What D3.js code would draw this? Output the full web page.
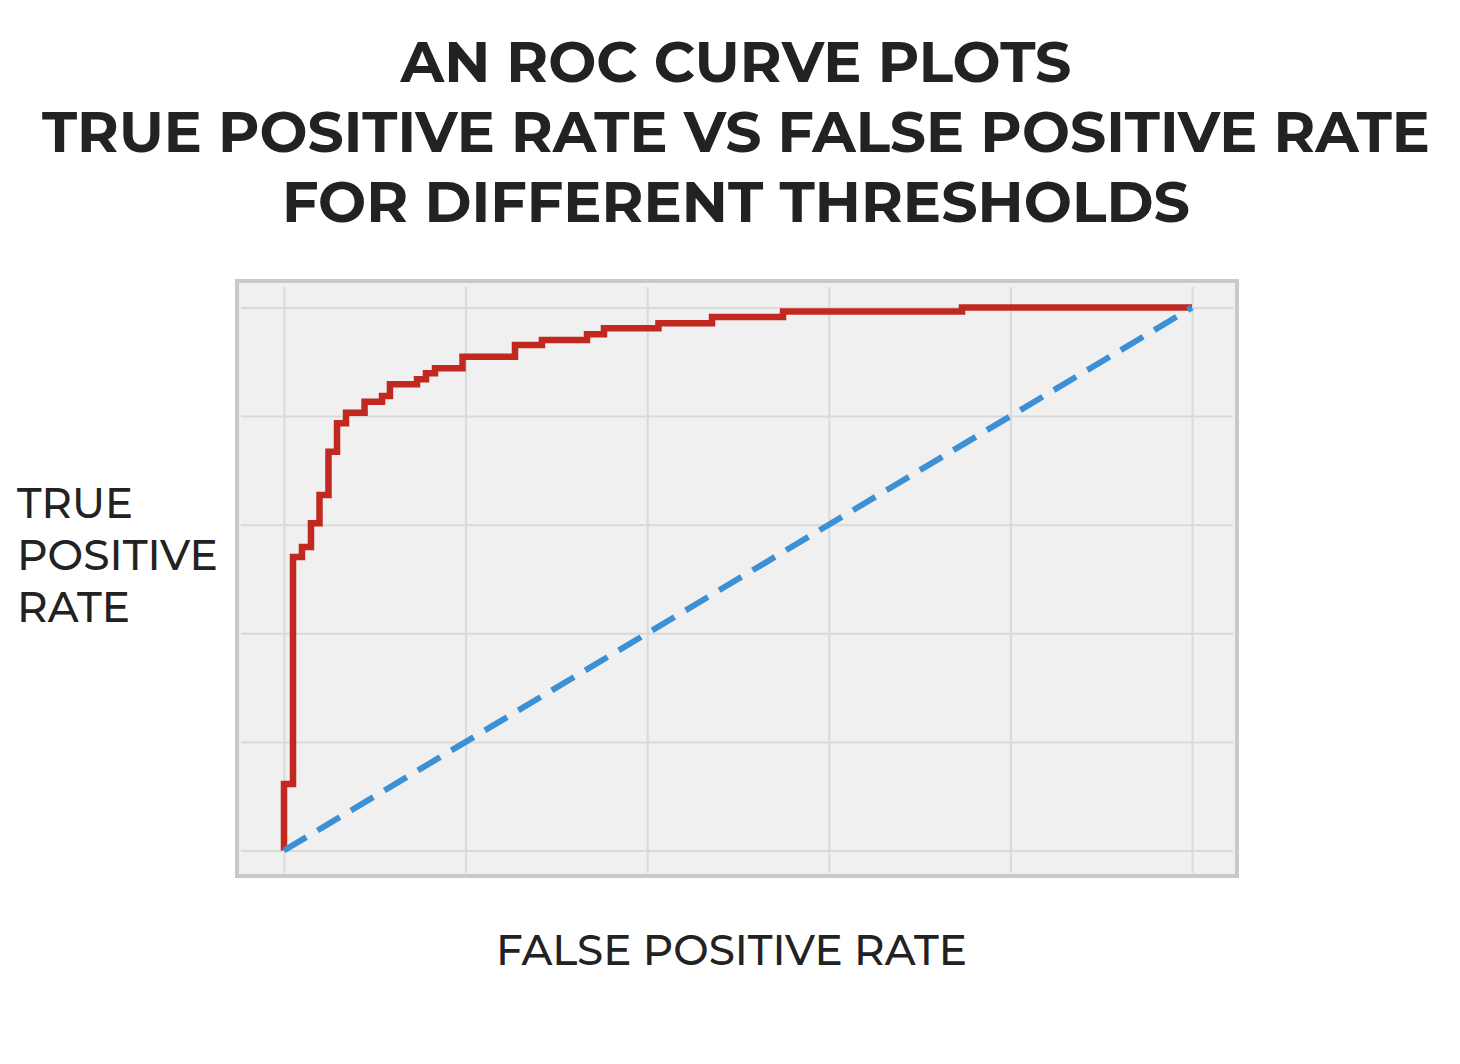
<!DOCTYPE html>
<html>
<head>
<meta charset="utf-8">
<script src="https://cdn.jsdelivr.net/npm/d3@7"></script>
<style>
  html, body { margin: 0; padding: 0; background: #ffffff; }
  svg { display: block; }
</style>
</head>
<body>
<div id="chart"></div>
<script>
// ---- Data ----
const titleLines = ["AN ROC CURVE PLOTS", "TRUE POSITIVE RATE VS FALSE POSITIVE RATE", "FOR DIFFERENT THRESHOLDS"];
const yLabelLines = ["TRUE", "POSITIVE", "RATE"];
const xLabel = "FALSE POSITIVE RATE";
const gridTicks = [0, 0.2, 0.4, 0.6, 0.8, 1.0];

// ROC corner points (sklearn-style fpr / tpr arrays)
const fpr = [0, 0, 0.0099, 0.0099, 0.0198, 0.0198, 0.0297, 0.0297, 0.0391, 0.0391,
             0.049, 0.049, 0.0584, 0.0584, 0.0683, 0.0683, 0.0887, 0.0887, 0.108, 0.108,
             0.1167, 0.1167, 0.1465, 0.1465, 0.1564, 0.1564, 0.1663, 0.1663, 0.1966, 0.1966,
             0.2544, 0.2544, 0.2841, 0.2841, 0.3337, 0.3337, 0.3524, 0.3524, 0.4124, 0.4124,
             0.4714, 0.4714, 0.5496, 0.5496, 0.7467, 0.7467, 1.0];
const tpr = [0, 0.1225, 0.1225, 0.5405, 0.5405, 0.559, 0.559, 0.6026, 0.6026, 0.6547,
             0.6547, 0.7344, 0.7344, 0.7867, 0.7867, 0.8063, 0.8063, 0.8265, 0.8265, 0.837,
             0.837, 0.8586, 0.8586, 0.8678, 0.8678, 0.8788, 0.8788, 0.888, 0.888, 0.9094,
             0.9094, 0.9309, 0.9309, 0.9401, 0.9401, 0.9506, 0.9506, 0.9617, 0.9617, 0.9709,
             0.9709, 0.9825, 0.9825, 0.9926, 0.9926, 1.0, 1.0, 1.0];
// Chance line
const chanceX = [0, 1];
const chanceY = [0, 1];

// ---- Layout ----
const W = 1460, H = 1064;
const frame = { x0: 237, y0: 281, x1: 1237, y1: 876 };

const svg = d3.select("#chart").append("svg")
  .attr("width", W).attr("height", H);

const x = d3.scaleLinear().domain([0, 1]).range([284, 1192]);
const y = d3.scaleLinear().domain([0, 1]).range([850.5, 307.5]);

// Plot background + frame
svg.append("rect")
  .attr("x", frame.x0).attr("y", frame.y0)
  .attr("width", frame.x1 - frame.x0).attr("height", frame.y1 - frame.y0)
  .attr("fill", "#f0f0f0")
  .attr("stroke", "#c9c9c9").attr("stroke-width", 4);

// Grid via axes
const gx = svg.append("g")
  .attr("transform", `translate(0,${frame.y1 - 3})`)
  .call(d3.axisBottom(x).tickValues(gridTicks).tickSize(-(frame.y1 - frame.y0 - 9)).tickFormat(""));
const gy = svg.append("g")
  .attr("transform", `translate(${frame.x0 + 4},0)`)
  .call(d3.axisLeft(y).tickValues(gridTicks).tickSize(-(frame.x1 - frame.x0 - 8)).tickFormat(""));
[gx, gy].forEach(g => {
  g.select(".domain").remove();
  g.selectAll(".tick line").attr("stroke", "#d9d9d9").attr("stroke-width", 2);
});

// ROC curve
const rocData = fpr.map((f, i) => [f, tpr[i]]);
const line = d3.line().x(d => x(d[0])).y(d => y(d[1]));
svg.append("path")
  .datum(rocData)
  .attr("d", line)
  .attr("fill", "none")
  .attr("stroke", "#c1281f")
  .attr("stroke-width", 6.5)
  .attr("stroke-linejoin", "miter")
  .attr("stroke-linecap", "butt");

// Chance diagonal
svg.append("path")
  .datum(chanceX.map((v, i) => [v, chanceY[i]]))
  .attr("d", line)
  .attr("fill", "none")
  .attr("stroke", "#3b90d6")
  .attr("stroke-width", 6)
  .attr("stroke-dasharray", "26,13");

// Title
const fontStack = "Montserrat, Inter, 'Open Sans', 'DejaVu Sans', sans-serif";
const titleBase = [82, 152, 222];
const titleWidths = [671, 1388, 908];
svg.append("g").selectAll("text")
  .data(titleLines)
  .join("text")
  .attr("x", 736)
  .attr("y", (d, i) => titleBase[i])
  .attr("text-anchor", "middle")
  .attr("font-family", fontStack)
  .attr("font-weight", 700)
  .attr("font-size", 56)
  .attr("fill", "#222222")
  .attr("textLength", (d, i) => titleWidths[i])
  .attr("lengthAdjust", "spacingAndGlyphs")
  .text(d => d);

// Y label
const yBase = [518, 570, 622];
const yWidths = [116, 201, 113];
svg.append("g").selectAll("text")
  .data(yLabelLines)
  .join("text")
  .attr("x", 17)
  .attr("y", (d, i) => yBase[i])
  .attr("font-family", fontStack)
  .attr("font-weight", 500)
  .attr("font-size", 42)
  .attr("fill", "#222222")
  .attr("textLength", (d, i) => yWidths[i])
  .attr("lengthAdjust", "spacingAndGlyphs")
  .text(d => d);

// X label
svg.append("text")
  .attr("x", 496)
  .attr("y", 965)
  .attr("font-family", fontStack)
  .attr("font-weight", 500)
  .attr("font-size", 42)
  .attr("fill", "#222222")
  .attr("textLength", 471)
  .attr("lengthAdjust", "spacingAndGlyphs")
  .text(xLabel);
</script>
</body>
</html>
